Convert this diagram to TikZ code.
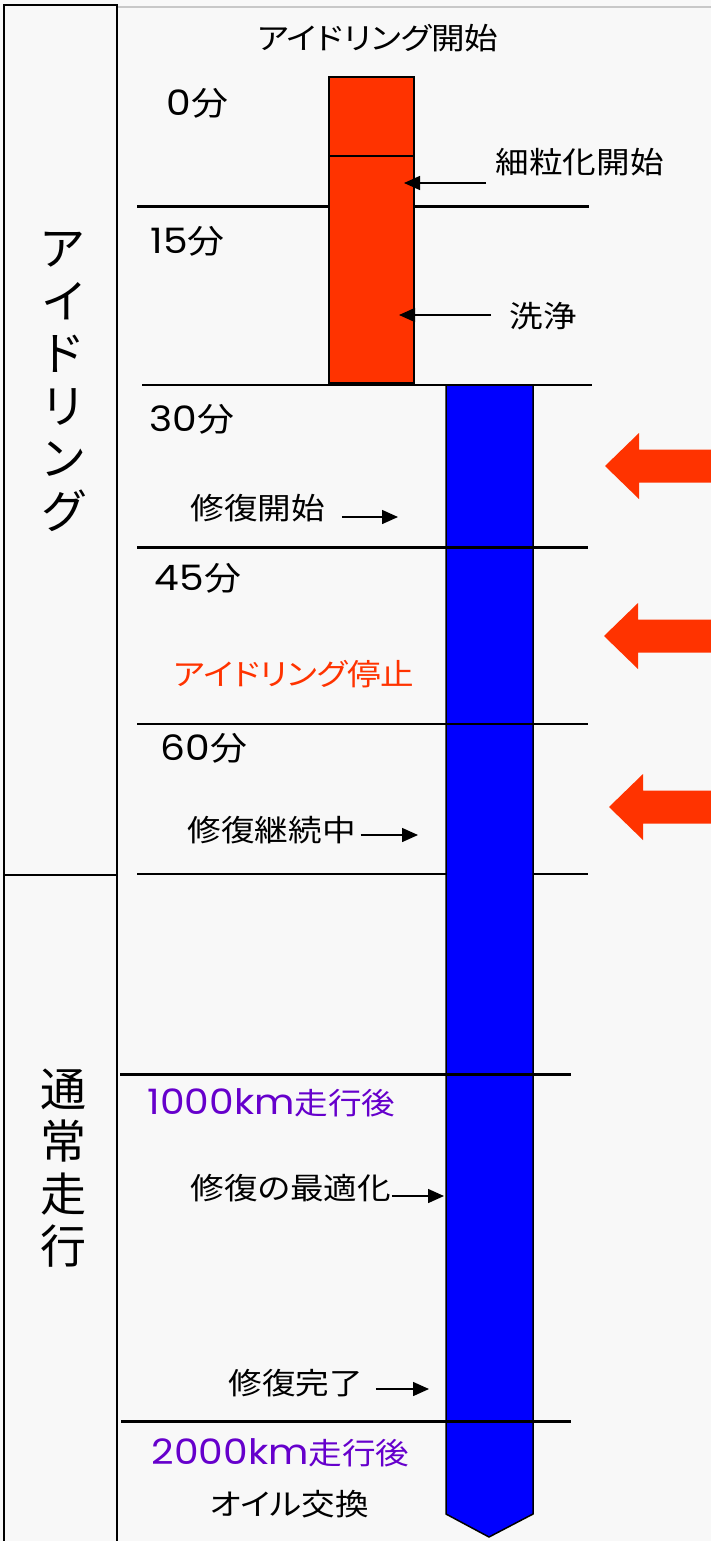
\documentclass[tikz,border=0pt]{standalone}
\usepackage{fontspec}
\usepackage{graphicx}
\usepackage{tikz}
\usetikzlibrary{arrows.meta, positioning}
\newfontfamily\jp[RawFeature=+palt]{Noto Sans CJK JP}
\newfontfamily\lat{Poppins}
\newcommand{\stretchx}[1]{\scalebox{1.12}[1]{#1}}
\newcommand{\latnum}[1]{{\fontsize{35}{36}\selectfont\lat #1}}
\definecolor{bgpaper}{HTML}{F8F8F8}
\definecolor{barred}{HTML}{FF3300}
\definecolor{txtpurple}{HTML}{6600CC}
\definecolor{topgray}{HTML}{C8C8C8}

\begin{document}
\begin{tikzpicture}[x=1pt, y=-1pt, >={Triangle[length=16pt,width=14pt]}, line width=1.5pt,
	lbl/.style={font=\fontsize{30}{36}\selectfont\jp, inner sep=0pt, anchor=west},
	minlbl/.style={lbl, font=\fontsize{33}{36}\selectfont\jp},
	vlbl/.style={font=\fontsize{46}{52.5}\selectfont\jp, inner sep=0pt, align=center},
	thickline/.style={line width=3pt},
	small/.style={->, line width=1.5pt}]
	\fill[bgpaper] (0,0) rectangle (711,1541);
	\useasboundingbox (0,0) rectangle (711,1541);
	\draw[topgray, line width=2pt] (117,7) -- (711,7);
	\draw (4,1541) -- (4,5) -- (117,5) -- (117,1541);
	\draw (4,875) -- (117,875);
	\draw[thickline] (137,206) -- (589,206);
	\draw (142,385) -- (592,385);
	\draw (137,874) -- (588,874);
	\draw[fill=barred] (329,77) rectangle (414,383);
	\draw (329,156) -- (414,156);
	\draw[fill=blue] (446,385) -- (533,385) -- (533,1514) -- (489,1537) -- (446,1514) -- cycle;
	\draw[thickline] (137,547) -- (588,547);
	\draw[line width=2.2pt] (137,724) -- (588,724);
	\draw[thickline] (120,1074) -- (571,1074);
	\draw[thickline] (121,1421) -- (571,1421);
	\foreach \tx/\ty in {605/466, 604/636, 609/807}
		\fill[barred] (\tx,\ty) -- ++(34,-33) -- ++(0,16.5) -- (711,\ty-16.5)
			-- (711,\ty+16.5) -- (\tx+34,\ty+16.5) -- ++(0,16.5) -- cycle;

	\node[vlbl] (idle) at (63,382) {ア\\イ\\ド\\リ\\ン\\グ};
	\node[vlbl] (drive) at (63,1168) {通\\常\\走\\行};
	\node[lbl, anchor=center] (start) at (378,38) {\stretchx{アイドリング開始}};
	\node[minlbl] (m0) at (166,103) {\stretchx{\latnum{0}分}};
	\node[minlbl] (m15) at (150,241) {\stretchx{\latnum{15}分}};
	\node[minlbl] (m30) at (149,419) {\stretchx{\latnum{30}分}};
	\node[minlbl] (m45) at (154,578) {\stretchx{\latnum{45}分}};
	\node[minlbl] (m60) at (160,748) {\stretchx{\latnum{60}分}};
	\node[lbl] (fine) at (495,162) {\stretchx{細粒化開始}};
	\node[lbl] (wash) at (509,316) {\stretchx{洗浄}};
	\node[lbl] (repstart) at (190,508) {\stretchx{修復開始}};
	\node[lbl, text=barred] (stop) at (173,674) {\stretchx{アイドリング停止}};
	\node[lbl] (repcont) at (187,830) {\stretchx{修復継続中}};
	\node[lbl, text=txtpurple] (km1) at (147,1103) {\stretchx{\latnum{1000km}走行後}};
	\node[lbl] (optim) at (190,1188) {\stretchx{修復の最適化}};
	\node[lbl] (done) at (228,1383) {\stretchx{修復完了}};
	\node[lbl, text=txtpurple] (km2) at (151,1453) {\stretchx{\latnum{2000km}走行後}};
	\node[lbl] (oil) at (209,1504) {\stretchx{オイル交換}};

	\coordinate (finehead) at (404,183);
	\coordinate (washhead) at (399,315);
	\coordinate (starthead) at (398,517);
	\coordinate (conthead) at (418,835);
	\coordinate (optimhead) at (444,1196);
	\coordinate (donehead) at (429,1389);
	\draw[small] ([xshift=-9pt]fine.west |- finehead) -- (finehead);
	\draw[small] ([xshift=-18pt]wash.west |- washhead) -- (washhead);
	\draw[small] ([xshift=16pt]repstart.east |- starthead) -- (starthead);
	\draw[small] ([xshift=4pt]repcont.east |- conthead) -- (conthead);
	\draw[small] (optim.east |- optimhead) -- (optimhead);
	\draw[small] ([xshift=12pt]done.east |- donehead) -- (donehead);
\end{tikzpicture}
\end{document}
